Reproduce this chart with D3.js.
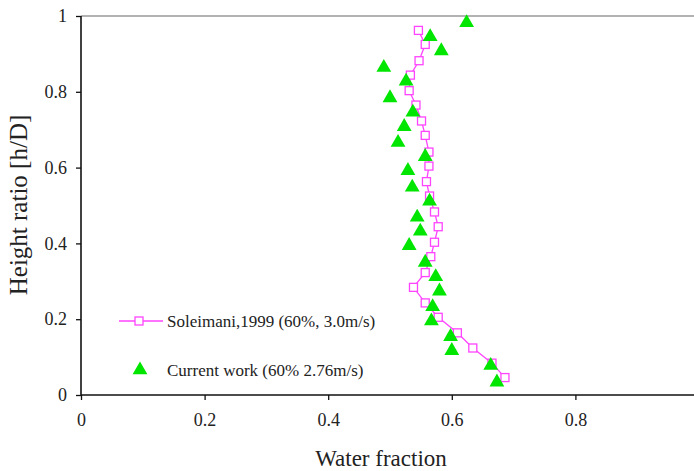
<!DOCTYPE html>
<html>
<head>
  <script src="https://cdnjs.cloudflare.com/ajax/libs/d3/7.8.5/d3.min.js"></script>
  <style>
    body { margin: 0; background: #fff; }
    text { font-family: "Liberation Serif", "Times New Roman", serif; fill: #222; }
  </style>
</head>
<body>
<div id="chart"></div>
<script>
  // Soleimani, 1999 (60%, 3.0m/s)
  var solX = [0.546, 0.557, 0.547, 0.533, 0.531, 0.542, 0.551, 0.557, 0.563, 0.563, 0.559, 0.564,
              0.572, 0.578, 0.572, 0.566, 0.557, 0.538, 0.557, 0.578, 0.609, 0.634, 0.665, 0.686];
  var solY = [0.962, 0.925, 0.882, 0.844, 0.803, 0.765, 0.723, 0.685, 0.641, 0.604, 0.563, 0.525,
              0.483, 0.444, 0.403, 0.365, 0.323, 0.284, 0.243, 0.205, 0.164, 0.124, 0.084, 0.046];

  // Current work (60% 2.76m/s)
  var curX = [0.624, 0.565, 0.583, 0.490, 0.526, 0.500, 0.537, 0.523, 0.513, 0.557, 0.529, 0.536, 0.564,
              0.544, 0.549, 0.531, 0.557, 0.574, 0.580, 0.569, 0.567, 0.598, 0.600, 0.663, 0.673];
  var curY = [0.982, 0.945, 0.908, 0.864, 0.828, 0.784, 0.746, 0.708, 0.666, 0.629, 0.592, 0.548, 0.511,
              0.469, 0.432, 0.394, 0.350, 0.312, 0.274, 0.233, 0.195, 0.154, 0.117, 0.078, 0.034];

  var xTicks = [0, 0.2, 0.4, 0.6, 0.8];
  var yTicks = [0, 0.2, 0.4, 0.6, 0.8, 1];

  var width = 694, height = 471;
  var mLeft = 81, mTop = 16, mBottom = 395;

  var svg = d3.select('#chart').append('svg')
    .attr('width', width).attr('height', height);

  var x = d3.scaleLinear().domain([0, 1]).range([mLeft, mLeft + 618]);
  var y = d3.scaleLinear().domain([0, 1]).range([mBottom, mTop]);

  // top border line
  svg.append('line')
    .attr('x1', mLeft).attr('x2', width).attr('y1', y(1)).attr('y2', y(1))
    .style('stroke', '#999').style('stroke-width', 1.5);

  var xAxis = svg.append('g')
    .attr('transform', 'translate(0,' + mBottom + ')')
    .call(d3.axisBottom(x).tickValues(xTicks).tickSize(5).tickPadding(13)
      .tickFormat(function(d){ return d === 0 ? '0' : d3.format('.1f')(d); }));
  xAxis.select('.domain').attr('d', 'M' + mLeft + ',0H' + width);

  var yAxis = svg.append('g')
    .attr('transform', 'translate(' + mLeft + ',0)')
    .call(d3.axisLeft(y).tickValues(yTicks).tickSize(5).tickPadding(9)
      .tickFormat(function(d){ return (d === 0 || d === 1) ? String(d) : d3.format('.1f')(d); }));
  yAxis.select('.domain').attr('d', 'M0,' + mTop + 'V' + mBottom);

  svg.selectAll('.domain').style('stroke', '#111').style('stroke-width', 1.6);
  svg.selectAll('.tick line').style('stroke', '#111').style('stroke-width', 1.3);
  svg.selectAll('.tick text').style('font-size', '18px')
    .style('font-family', '"Liberation Serif", serif').style('fill', '#222');

  // axis titles
  svg.append('text')
    .attr('x', 381).attr('y', 466)
    .attr('text-anchor', 'middle')
    .style('font-size', '23px')
    .text('Water fraction');

  svg.append('text')
    .attr('transform', 'translate(27,205) rotate(-90)')
    .attr('text-anchor', 'middle')
    .style('font-size', '25px')
    .text('Height ratio [h/D]');

  var solData = solX.map(function(v, i){ return [v, solY[i]]; });
  var curData = curX.map(function(v, i){ return [v, curY[i]]; });

  var pink = '#ff44ff', green = '#00e600';

  svg.append('path')
    .datum(solData)
    .attr('d', d3.line().x(function(d){ return x(d[0]); }).y(function(d){ return y(d[1]); }))
    .style('fill', 'none').style('stroke', pink).style('stroke-width', 1.3);

  svg.selectAll('rect.sol')
    .data(solData).enter().append('rect')
    .attr('class', 'sol')
    .attr('x', function(d){ return x(d[0]) - 4; })
    .attr('y', function(d){ return y(d[1]) - 4; })
    .attr('width', 8).attr('height', 8)
    .style('fill', '#fff').style('stroke', pink).style('stroke-width', 1.3);

  var tri = d3.symbol().type(d3.symbolTriangle).size(95);
  svg.selectAll('path.cur')
    .data(curData).enter().append('path')
    .attr('class', 'cur')
    .attr('d', tri)
    .attr('transform', function(d){ return 'translate(' + x(d[0]) + ',' + y(d[1]) + ')'; })
    .style('fill', green);

  // legend
  var lg = svg.append('g');
  lg.append('line').attr('x1', 119).attr('x2', 163).attr('y1', 321).attr('y2', 321)
    .style('stroke', pink).style('stroke-width', 1.3);
  lg.append('rect').attr('x', 135).attr('y', 317).attr('width', 8).attr('height', 8)
    .style('fill', '#fff').style('stroke', pink).style('stroke-width', 1.3);
  lg.append('text').attr('x', 167).attr('y', 327).style('font-size', '17px')
    .text('Soleimani,1999 (60%, 3.0m/s)');
  lg.append('path').attr('d', tri).attr('transform', 'translate(140,370)').style('fill', green);
  lg.append('text').attr('x', 167).attr('y', 376).style('font-size', '17px')
    .text('Current work (60% 2.76m/s)');
</script>
</body>
</html>
